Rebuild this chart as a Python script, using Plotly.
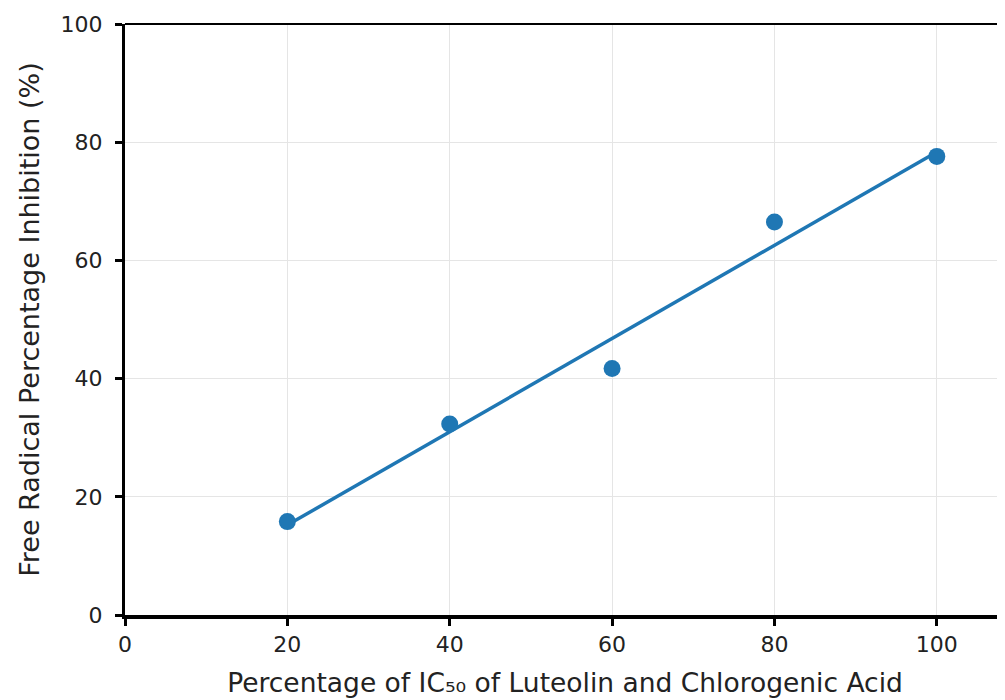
import numpy as np
import plotly.graph_objects as go

x_pct = [20, 40, 60, 80, 100]
inhibition = [15.8, 32.3, 41.7, 66.5, 77.6]
x_ticks = [0, 20, 40, 60, 80, 100]
y_ticks = [0, 20, 40, 60, 80, 100]

slope, intercept = np.polyfit(x_pct, inhibition, 1)
fit_x = [x_pct[0], x_pct[-1]]
fit_y = [slope * v + intercept for v in fit_x]

color = "#1f77b4"
fig = go.Figure()
fig.add_trace(go.Scatter(x=fit_x, y=fit_y, mode="lines",
                         line=dict(color=color, width=3.5), showlegend=False))
fig.add_trace(go.Scatter(x=x_pct, y=inhibition, mode="markers",
                         marker=dict(color=color, size=17), showlegend=False))

tick_font = dict(family="DejaVu Sans", size=22, color="#222")
title_font = dict(family="DejaVu Sans", size=27, color="#222")
# page body has an 8px margin, so the figure is sized to fill the rest
fig.update_layout(
    width=997, height=692,
    margin=dict(l=117, r=0, t=16, b=85, autoexpand=False),
    paper_bgcolor="white", plot_bgcolor="white",
    xaxis=dict(range=[0, 108.4], tickvals=x_ticks, ticks="outside", ticklen=7,
               tickwidth=3, tickcolor="black", showline=True, linecolor="black",
               linewidth=4, showgrid=True, gridcolor="#e5e5e5", gridwidth=1,
               zeroline=False, tickfont=tick_font, automargin=False,
               title=dict(text="Percentage of IC₅₀ of Luteolin and Chlorogenic Acid",
                          font=dict(family="DejaVu Sans", size=26.5, color="#222"),
                          standoff=18)),
    yaxis=dict(range=[0, 100], tickvals=y_ticks, ticks="outside", ticklen=7,
               tickwidth=3, tickcolor="black", showline=True, linecolor="black",
               linewidth=3, showgrid=True, gridcolor="#e5e5e5", gridwidth=1,
               zeroline=False, tickfont=tick_font, automargin=False,
               ticklabelstandoff=8,
               title=dict(text="Free Radical Percentage Inhibition (%)",
                          font=title_font, standoff=14)),
)
fig.add_shape(type="line", xref="paper", yref="paper", x0=0, x1=1, y0=1, y1=1,
              line=dict(color="black", width=2))
fig.write_html("out.html")
